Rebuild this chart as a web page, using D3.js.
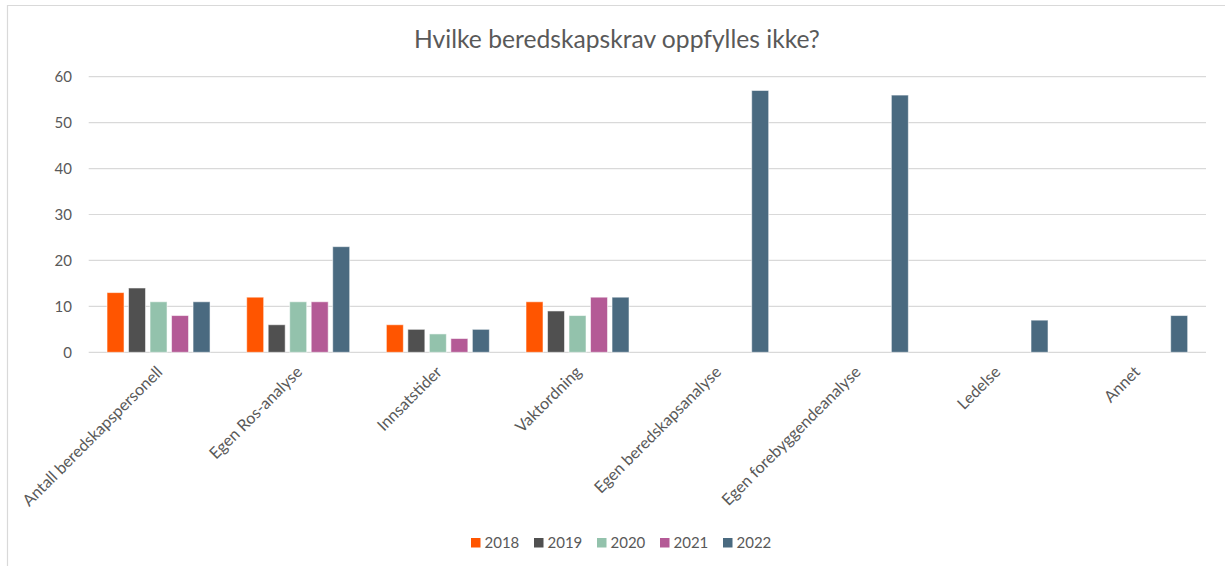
<!DOCTYPE html>
<html>
<head>
<meta charset="utf-8">
<script src="https://cdn.jsdelivr.net/npm/d3@7"></script>
<style>
  html, body { margin: 0; padding: 0; background: #fff; }
  svg { display: block; }
  text { font-family: Lato, "Open Sans", sans-serif; fill: #595959; }
</style>
</head>
<body>
<svg id="chart" width="1225" height="566"></svg>
<script>
const title = "Hvilke beredskapskrav oppfylles ikke?";
const categories = ["Antall beredskapspersonell", "Egen Ros-analyse", "Innsatstider", "Vaktordning",
  "Egen beredskapsanalyse", "Egen forebyggendeanalyse", "Ledelse", "Annet"];
const years = ["2018", "2019", "2020", "2021", "2022"];
const v2018 = [13, 12, 6, 11, null, null, null, null];
const v2019 = [14, 6, 5, 9, null, null, null, null];
const v2020 = [11, 11, 4, 8, null, null, null, null];
const v2021 = [8, 11, 3, 12, null, null, null, null];
const v2022 = [11, 23, 5, 12, 57, 56, 7, 8];
const yTicks = [0, 10, 20, 30, 40, 50, 60];
const colors = ["#FF5500", "#505050", "#93C2AC", "#B45A96", "#4A6A80"];

const seriesValues = [v2018, v2019, v2020, v2021, v2022];

const svg = d3.select("#chart");

// frame lines (partial border as in reference)
svg.append("line").attr("x1", 7).attr("x2", 1225).attr("y1", 5.5).attr("y2", 5.5)
  .attr("stroke", "#d9d9d9").attr("stroke-width", 1.2);
svg.append("line").attr("x1", 7.5).attr("x2", 7.5).attr("y1", 5).attr("y2", 566)
  .attr("stroke", "#d9d9d9").attr("stroke-width", 1.2);

const plotLeft = 88.7, plotRight = 1206, plotTop = 76.7, plotBottom = 352.3;

const x = d3.scaleBand().domain(categories).range([plotLeft, plotRight]).paddingInner(0).paddingOuter(0);
const y = d3.scaleLinear().domain([0, 60]).range([plotBottom, plotTop]);
const groupW = 103;
const xs = d3.scaleBand().domain(years).range([-groupW / 2, groupW / 2]).paddingInner(0.21).paddingOuter(0);

// gridlines
svg.append("g").selectAll("line").data(yTicks).join("line")
  .attr("x1", plotLeft).attr("x2", plotRight)
  .attr("y1", d => y(d)).attr("y2", d => y(d))
  .attr("stroke", "#d9d9d9").attr("stroke-width", 1.2);

// y axis labels
const yAxis = d3.axisLeft(y).tickValues(yTicks).tickSize(0).tickPadding(0);
const yg = svg.append("g").attr("transform", `translate(72,0)`).call(yAxis);
yg.select(".domain").remove();
yg.selectAll("text").style("font-size", "15px").attr("fill", "#595959")
  .style("font-family", "Lato, 'Open Sans', sans-serif");

// bars
const rows = [];
categories.forEach((c, i) => {
  years.forEach((yr, j) => {
    const v = seriesValues[j][i];
    if (v !== null && v !== undefined) rows.push({ c, yr, j, v });
  });
});
svg.append("g").selectAll("rect").data(rows).join("rect")
  .attr("x", d => x(d.c) + x.bandwidth() / 2 + xs(d.yr))
  .attr("width", xs.bandwidth())
  .attr("y", d => y(d.v))
  .attr("height", d => y(0) - y(d.v))
  .attr("fill", d => colors[d.j])
  .attr("stroke", "rgba(255,255,255,0.55)")
  .attr("stroke-width", 1);

// x axis labels
const xAxis = d3.axisBottom(x).tickSize(0).tickPadding(0);
const xg = svg.append("g").call(xAxis);
xg.select(".domain").remove();
xg.selectAll(".tick").attr("transform", d => `translate(${x(d) + x.bandwidth() / 2 + 5},373)`);
const xt = xg.selectAll("text")
  .attr("y", 0).attr("dy", 0)
  .attr("text-anchor", "end")
  .attr("transform", "rotate(-45)")
  .style("font-family", "Lato, 'Open Sans', sans-serif")
  .style("font-size", "15px")
  .attr("fill", "#595959");
// fit label size so the first label spans ~187px like the reference
const firstLen = xt.nodes()[0].getComputedTextLength();
xt.style("font-size", (15 * 190 / firstLen).toFixed(2) + "px");

// title
const tt = svg.append("text").attr("x", 617).attr("y", 48).attr("text-anchor", "middle")
  .style("font-size", "21px").text(title);
const tLen = tt.node().getComputedTextLength();
tt.style("font-size", Math.min(26, 21 * 406 / tLen).toFixed(2) + "px");

// legend
const lg = svg.append("g").selectAll("g").data(years).join("g")
  .attr("transform", (d, i) => `translate(${471 + i * 63},0)`);
lg.append("rect").attr("x", 0).attr("y", 538).attr("width", 9.5).attr("height", 9.5)
  .attr("fill", (d, i) => colors[i]);
lg.append("text").attr("x", 13.5).attr("y", 547.5).style("font-size", "15px").text(d => d);
</script>
</body>
</html>
